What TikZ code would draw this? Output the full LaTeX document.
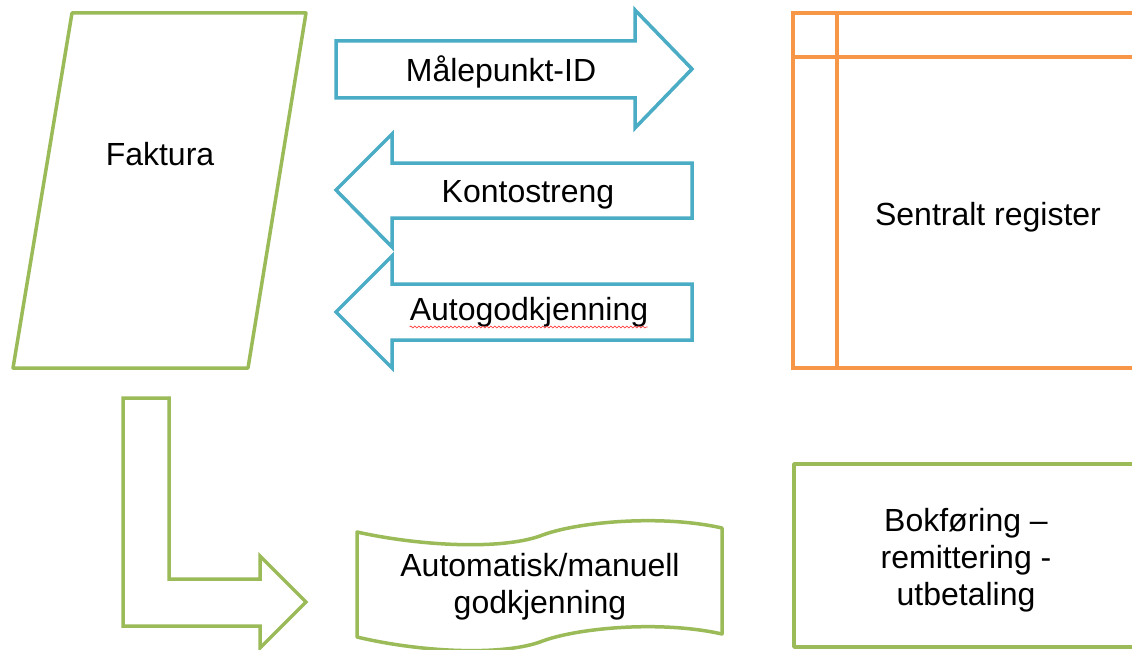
\documentclass[tikz,border=0pt]{standalone}
\usepackage{fontspec}
\setmainfont{Liberation Sans}
\usetikzlibrary{decorations.pathmorphing}
\definecolor{ogreen}{HTML}{9BBB59}
\definecolor{oblue}{HTML}{4BACC6}
\definecolor{oorange}{HTML}{F79646}
\tikzset{
  gshape/.style={draw=ogreen, line width=3.5pt, line join=round, fill=white},
  bshape/.style={draw=oblue, line width=3.5pt, line join=miter, fill=white},
  oshape/.style={draw=oorange, line width=3.5pt},
  lbl/.style={font=\fontsize{32}{37}\selectfont, align=center, inner sep=0pt, text=black},
}
\begin{document}
\begin{tikzpicture}[x=1pt,y=-1pt]
\clip (0,0) rectangle (1132,650);
\fill[white] (0,0) rectangle (1132,650);
% Faktura parallelogram
\draw[gshape] (72,13) -- (306,13) -- (248,368) -- (13,368) -- cycle;
\node[lbl, anchor=base] (faktura) at (160,165) {Faktura};
% Malepunkt-ID right arrow
\draw[bshape] (336,41) -- (635,41) -- (635,10) -- (692,69) -- (635,128) -- (635,98) -- (336,98) -- cycle;
\node[lbl, anchor=base] (maal) at (501,82) {Målepunkt-ID};
% Kontostreng left arrow
\draw[bshape] (692,163) -- (392,163) -- (392,134) -- (336,190) -- (392,247) -- (392,218) -- (692,218) -- cycle;
\node[lbl, anchor=base] (konto) at (528,202) {Kontostreng};
% Autogodkjenning left arrow
\draw[bshape] (692,284) -- (392,284) -- (392,256) -- (336,312) -- (392,368) -- (392,340) -- (692,340) -- cycle;
\node[lbl, anchor=base] (auto) at (529,320) {Autogodkjenning};
\draw[red!75, line width=0.7pt, decorate, decoration={snake, segment length=4pt, amplitude=0.9pt}] (auto.base west) ++(0,7) coordinate (sq1) -- ++(238,0);
% Sentralt register
\draw[oshape] (1140,13) -- (793,13) -- (793,368) -- (1140,368);
\draw[oshape] (837,13) -- (837,368);
\draw[oshape] (793,57) -- (1140,57);
\node[lbl, anchor=base] (reg) at (988,225) {Sentralt register};
% Bent arrow
\draw[gshape, line join=miter] (123,398) -- (169,398) -- (169,579) -- (260,579) -- (260,556) -- (306,602) -- (260,648) -- (260,626) -- (123,626) -- cycle;
% Punched tape document
\draw[gshape] (357,532) .. controls (420,546) and (500,550) .. (540,536)
  .. controls (575,522) and (660,514) .. (722,528)
  -- (722,634)
  .. controls (660,620) and (575,628) .. (540,642)
  .. controls (500,656) and (420,652) .. (357,637) -- cycle;
\node[lbl] (godk) at (540,587) {Automatisk/manuell\\godkjenning};
% Bokforing box
\draw[gshape] (1140,464) -- (794,464) -- (794,647) -- (1140,647);
\node[lbl] (bok) at (966,560) {Bokføring –\\remittering -\\utbetaling};
\end{tikzpicture}
\end{document}
